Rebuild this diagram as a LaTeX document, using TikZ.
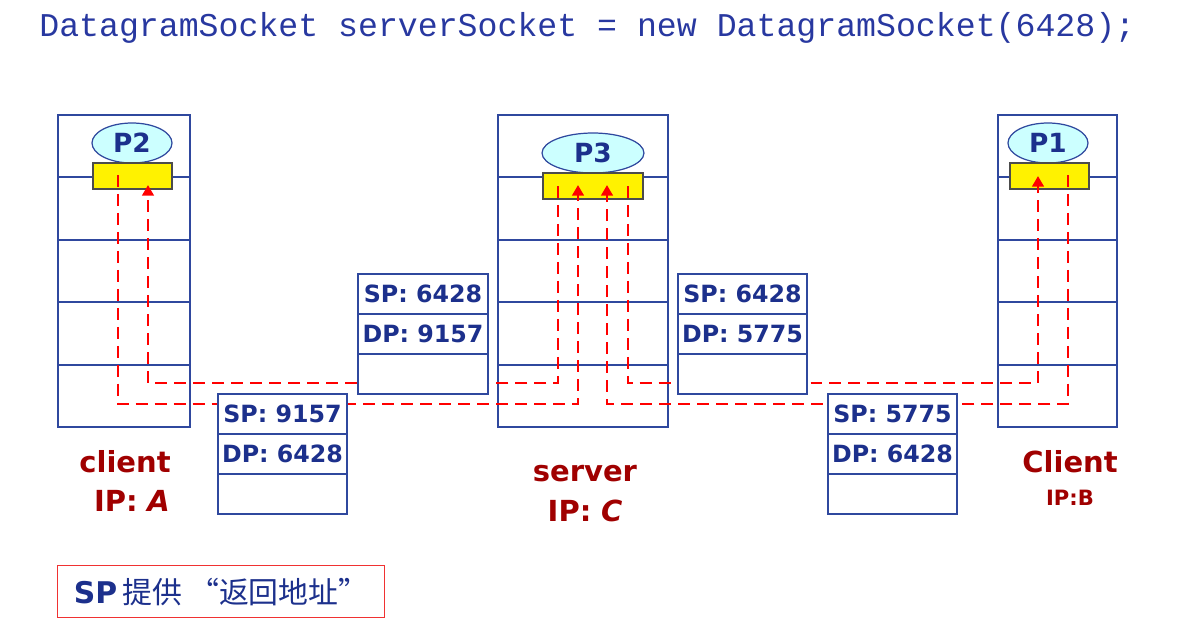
\documentclass[tikz,border=0pt]{standalone}
\usepackage{fontspec}
\setmainfont{DejaVu Sans}
\newfontfamily\codefont{Liberation Mono}
\newfontfamily\cjk{Noto Sans CJK SC}
\usetikzlibrary{fit,arrows.meta,shapes.geometric}
\definecolor{codeblue}{RGB}{40,56,160}
\definecolor{lineblue}{RGB}{47,72,158}
\definecolor{txtblue}{RGB}{28,48,140}
\definecolor{lblred}{RGB}{160,0,0}
\definecolor{procfill}{RGB}{204,255,255}
\definecolor{flowred}{RGB}{255,0,0}
\definecolor{notered}{RGB}{240,50,50}
\begin{document}
\begin{tikzpicture}[x=0.02cm,y=-0.02cm,
 hostbox/.style={draw=lineblue, line width=0.8pt, inner sep=0pt},
 rowline/.style={draw=lineblue, line width=0.8pt},
 proc/.style={ellipse, draw=lineblue, fill=procfill, line width=0.7pt, inner sep=0pt, minimum height=0.8cm, font=\fontsize{15}{15}\selectfont\bfseries, text=txtblue},
 sock/.style={draw=black!70, fill=yellow, line width=0.6pt, inner sep=0pt},
 seg/.style={draw=lineblue, fill=white, line width=0.8pt, inner sep=0pt},
 segtxt/.style={font=\fontsize{13.5}{14}\selectfont\bfseries, text=txtblue},
 flow/.style={draw=flowred, line width=1.6pt, dash pattern=on 6.8pt off 4pt},
 flowarrow/.style={flow, -{Triangle[length=6pt,width=6.5pt]}},
 lbl/.style={font=\fontsize{16.5}{18}\selectfont\bfseries, text=lblred, anchor=base},
 lblsmall/.style={font=\fontsize{12}{14}\selectfont\bfseries, text=lblred, anchor=base}
]
\useasboundingbox (0,0) rectangle (1198,630);

% title
\node[anchor=base west, inner sep=0pt, font=\codefont\fontsize{18.9}{20}\selectfont, text=codeblue] (title) at (39,36) {DatagramSocket serverSocket = new DatagramSocket(6428);};

% hosts
\node[hostbox, fit={(58,115) (190,427)}] (hostA) {};
\node[hostbox, fit={(498,115) (668,427)}] (hostC) {};
\node[hostbox, fit={(998,115) (1117,427)}] (hostB) {};
\foreach \y in {177,240,302,365} {
  \draw[rowline] (58,\y) -- (190,\y);
  \draw[rowline] (498,\y) -- (668,\y);
  \draw[rowline] (998,\y) -- (1117,\y);
}

% processes and sockets
\node[proc, minimum width=1.6cm] (P2) at (132,143) {P2};
\node[proc, minimum width=2.04cm] (P3) at (593,153) {P3};
\node[proc, minimum width=1.6cm] (P1) at (1048,143) {P1};
\node[sock, fit={(93,163) (172,189)}] (sA) {};
\node[sock, fit={(543,173) (643,199)}] (sC) {};
\node[sock, fit={(1010,163) (1089,189)}] (sB) {};

% flow coordinates
\coordinate (aOut) at (118,175);
\coordinate (aIn) at (148,185);
\coordinate (cOutA) at (558,186);
\coordinate (cInA) at (578,185);
\coordinate (cInB) at (607,185);
\coordinate (cOutB) at (628,186);
\coordinate (bIn) at (1038,176);
\coordinate (bOut) at (1068,175);
\coordinate (lo) at (0,404);
\coordinate (hi) at (0,383);

\draw[flowarrow] (aOut) |- (cInA |- lo) -- (cInA);
\draw[flowarrow] (cOutA) |- (aIn |- hi) -- (aIn);
\draw[flowarrow] (bOut) |- (cInB |- lo) -- (cInB);
\draw[flowarrow] (cOutB) |- (bIn |- hi) -- (bIn);

% segments
\node[seg, fit={(358,274) (488,394)}] (seg1) {};
\draw[rowline] (358,314) -- (488,314) (358,354) -- (488,354);
\node[segtxt] at (423,294) {SP: 6428};
\node[segtxt] at (423,334) {DP: 9157};

\node[seg, fit={(218,394) (347,514)}] (seg2) {};
\draw[rowline] (218,434) -- (347,434) (218,474) -- (347,474);
\node[segtxt] at (282.5,414) {SP: 9157};
\node[segtxt] at (282.5,454) {DP: 6428};

\node[seg, fit={(678,274) (807,394)}] (seg3) {};
\draw[rowline] (678,314) -- (807,314) (678,354) -- (807,354);
\node[segtxt] at (742.5,294) {SP: 6428};
\node[segtxt] at (742.5,334) {DP: 5775};

\node[seg, fit={(828,394) (957,514)}] (seg4) {};
\draw[rowline] (828,434) -- (957,434) (828,474) -- (957,474);
\node[segtxt] at (892.5,414) {SP: 5775};
\node[segtxt] at (892.5,454) {DP: 6428};

% labels
\node[lbl] (lA1) at (125,472) {client};
\node[lbl] (lA2) at (132,511) {IP:\,\,\textit{A}};
\node[lbl] (lC1) at (585,481) {server};
\node[lbl] (lC2) at (585,521) {IP:\,\,\textit{C}};
\node[lbl] (lB1) at (1070,472) {Client};
\node[lblsmall] (lB2) at (1070,505) {IP:B};

% note
\node[draw=notered, line width=0.8pt, minimum width=6.54cm, minimum height=1.04cm, anchor=north west, text=txtblue, inner sep=0pt] (note) at (57,565)
  {{\bfseries\fontsize{17}{20}\selectfont SP} {\cjk\fontsize{17}{20}\selectfont 提供 “返回地址”}};
\end{tikzpicture}
\end{document}
